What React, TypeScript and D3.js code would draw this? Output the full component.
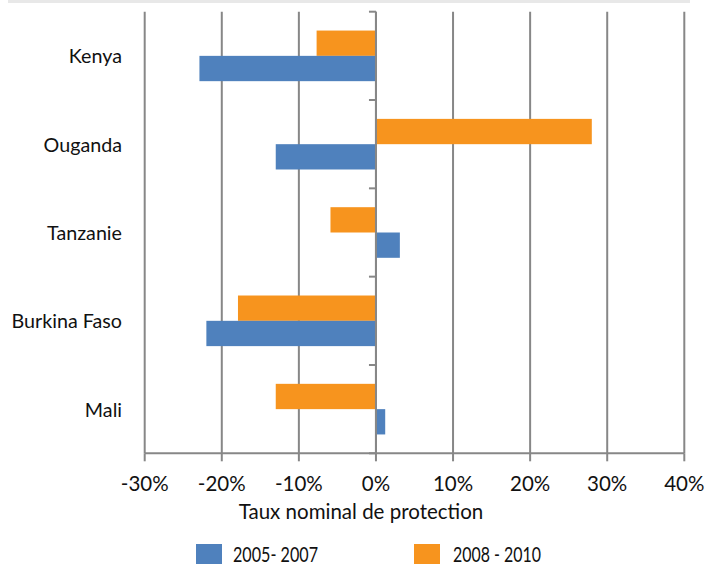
import React from "react";
import * as d3 from "d3";

const categories = ["Kenya", "Ouganda", "Tanzanie", "Burkina Faso", "Mali"];
const seriesNames = ["2008 - 2010", "2005- 2007"];
const values2005 = [-22.9, -13.0, 3.1, -22.0, 1.2];
const values2008 = [-7.7, 28.0, -5.9, -17.9, -13.0];
const xTicks = [-30, -20, -10, 0, 10, 20, 30, 40];
const axisTitle = "Taux nominal de protection";

const BLUE = "#4F81BD";
const ORANGE = "#F7941E";
const GRID = "#878787";
const FONT = "Lato, 'Open Sans', sans-serif";

export default function App() {
  const W = 705;
  const H = 564;
  const x = d3.scaleLinear().domain([-30, 40]).range([144.7, 684.3]);
  const y = d3.scaleBand<string>().domain(categories).range([11.7, 453.3]).padding(0);
  const inner = d3
    .scaleBand<string>()
    .domain(seriesNames)
    .range([0, y.bandwidth()])
    .paddingInner(0)
    .paddingOuter(0.745);
  const top = 11.7;
  const bottom = 453.3;
  const boundaries = categories.map((c) => y(c) as number).concat([bottom]);

  const bars: { cat: string; s: string; v: number; color: string }[] = [];
  categories.forEach((c, i) => {
    bars.push({ cat: c, s: seriesNames[0], v: values2008[i], color: ORANGE });
    bars.push({ cat: c, s: seriesNames[1], v: values2005[i], color: BLUE });
  });

  const legend = [
    { name: "2005- 2007", color: BLUE, sx: 196, tx: 233, tw: 85 },
    { name: "2008 - 2010", color: ORANGE, sx: 414, tx: 453, tw: 88 },
  ];

  return (
    <svg
      width={W}
      height={H}
      style={{ position: "absolute", left: 0, top: 0, background: "#fff" }}
      fontFamily={FONT}
    >
      <rect x={0} y={0} width={W} height={H} fill="#ffffff" />
      <rect x={8} y={0} width={682} height={3} fill="#e8e8e8" />
      {/* gridlines */}
      {xTicks.map((t) => (
        <line key={"g" + t} x1={x(t)} x2={x(t)} y1={top} y2={bottom} stroke={GRID} strokeWidth={2} />
      ))}
      {/* x axis */}
      <line x1={x(-30)} x2={x(40)} y1={bottom} y2={bottom} stroke={GRID} strokeWidth={2} />
      {xTicks.map((t) => (
        <line key={"xt" + t} x1={x(t)} x2={x(t)} y1={bottom} y2={bottom + 8} stroke={GRID} strokeWidth={2} />
      ))}
      {/* bars */}
      {bars.map((b, i) => {
        const y0 = (y(b.cat) as number) + (inner(b.s) as number);
        const x0 = Math.min(x(0), x(b.v));
        return (
          <rect
            key={i}
            x={x0}
            y={y0}
            width={Math.abs(x(b.v) - x(0))}
            height={inner.bandwidth()}
            fill={b.color}
          />
        );
      })}
      {/* y axis at zero */}
      <line x1={x(0)} x2={x(0)} y1={top} y2={bottom} stroke={GRID} strokeWidth={2} />
      {boundaries.map((b, i) => (
        <line key={"yt" + i} x1={x(0) - 7} x2={x(0)} y1={b} y2={b} stroke={GRID} strokeWidth={2} />
      ))}
      {/* category labels */}
      {categories.map((c) => (
        <text
          key={c}
          x={122}
          y={(y(c) as number) + y.bandwidth() / 2 + 7.5}
          textAnchor="end"
          fontSize={19.7}
          fill="#111"
        >
          {c}
        </text>
      ))}
      {/* tick labels */}
      {xTicks.map((t) => (
        <text key={"tl" + t} x={x(t)} y={491} textAnchor="middle" fontSize={20.5} fill="#111">
          {t + "%"}
        </text>
      ))}
      <text x={361} y={518.5} textAnchor="middle" fontSize={20.5} fill="#111">
        {axisTitle}
      </text>
      {/* legend */}
      {legend.map((l) => (
        <g key={l.name}>
          <rect x={l.sx} y={544} width={26} height={20} fill={l.color} />
          <text
            x={l.tx}
            y={562}
            fontSize={21}
            fill="#111"
            textLength={l.tw}
            lengthAdjust="spacingAndGlyphs"
          >
            {l.name}
          </text>
        </g>
      ))}
    </svg>
  );
}
